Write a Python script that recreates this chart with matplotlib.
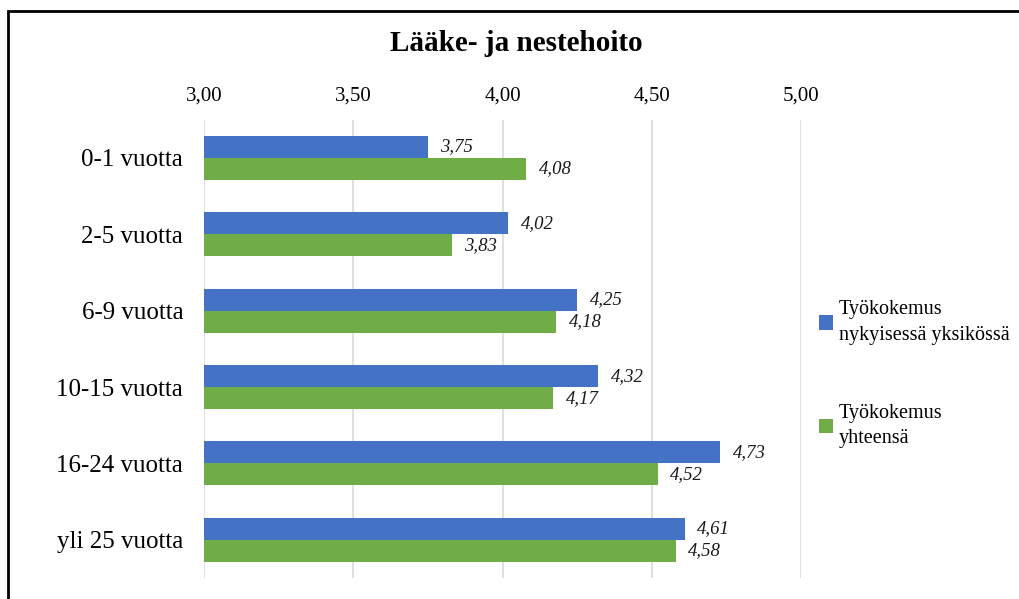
import matplotlib.pyplot as plt
import matplotlib.patches as patches
import numpy as np

plt.rcParams['font.family'] = ['Liberation Serif', 'DejaVu Serif']

categories = ['0-1 vuotta', '2-5 vuotta', '6-9 vuotta', '10-15 vuotta', '16-24 vuotta', 'yli 25 vuotta']
nykyinen = [3.75, 4.02, 4.25, 4.32, 4.73, 4.61]
yhteensa = [4.08, 3.83, 4.18, 4.17, 4.52, 4.58]
series_names = ['Työkokemus\nnykyisessä yksikössä', 'Työkokemus\nyhteensä']
xticks = [3.0, 3.5, 4.0, 4.5, 5.0]

fig = plt.figure(figsize=(10.2, 5.99), dpi=100)
ax = fig.add_axes([0.2, 0.035, 0.5853, 0.765])

y = np.arange(len(categories))
h = 0.288
base = 3.0
b1 = ax.barh(y - h / 2, np.array(nykyinen) - base, left=base, height=h, color='#4472C4', label=series_names[0])
b2 = ax.barh(y + h / 2, np.array(yhteensa) - base, left=base, height=h, color='#70AD47', label=series_names[1])

for yi, v in zip(y, nykyinen):
    ax.annotate(f'{v:.2f}'.replace('.', ','), (v, yi - h / 2), xytext=(9, 0), textcoords='offset points',
                va='center', ha='left', fontsize=13.5, style='italic', color='#1a1a1a')
for yi, v in zip(y, yhteensa):
    ax.annotate(f'{v:.2f}'.replace('.', ','), (v, yi + h / 2), xytext=(9, 0), textcoords='offset points',
                va='center', ha='left', fontsize=13.5, style='italic', color='#1a1a1a')

ax.set_xlim(3.0, 5.0)
ax.set_ylim(len(categories) - 0.5, -0.5)
ax.set_xticks(xticks)
ax.set_xticklabels([f'{t:.2f}'.replace('.', ',') for t in xticks])
ax.xaxis.tick_top()
ax.set_yticks(y)
ax.set_yticklabels(categories)
ax.tick_params(axis='x', length=0, pad=10, labelsize=15)
ax.tick_params(axis='y', length=0, pad=15, labelsize=18)
for s in ax.spines.values():
    s.set_visible(False)
ax.grid(axis='x', color='#D9D9D9', linewidth=1.2)
ax.set_axisbelow(True)

fig.text(0.506, 0.928, 'Lääke- ja nestehoito', ha='center', va='center', fontsize=21, fontweight='bold')

leg = fig.legend(handles=[b1, b2], loc='center left', bbox_to_anchor=(0.785, 0.375), frameon=False,
                 fontsize=14.5, handlelength=0.7, handleheight=0.7, handletextpad=0.3, labelspacing=2.95)
for t in leg.get_texts():
    t.set_linespacing(1.45)

fig.patches.append(patches.Rectangle((0.0078, -0.1), 1.2, 1.0816, transform=fig.transFigure,
                                     fill=False, edgecolor='black', linewidth=2, clip_on=False))

fig.savefig('out.png', dpi=100)
